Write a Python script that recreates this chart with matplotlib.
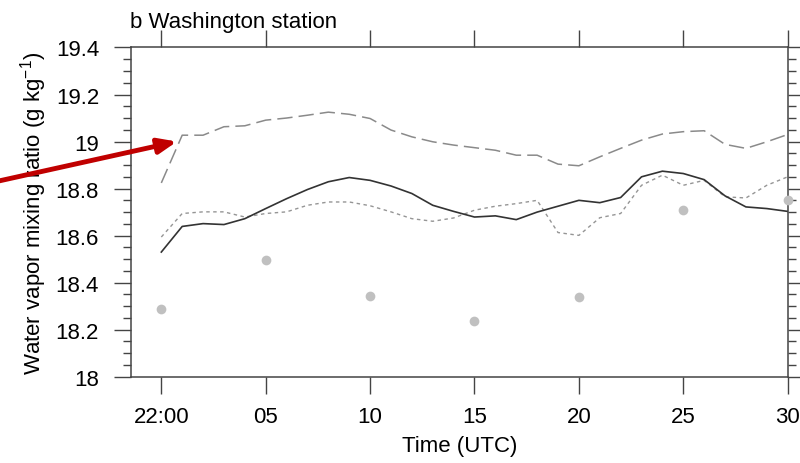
import matplotlib
matplotlib.use("Agg")
import matplotlib.pyplot as plt
from matplotlib.ticker import MultipleLocator, FixedLocator

plt.rcParams['font.family'] = ['Liberation Sans', 'DejaVu Sans']
plt.rcParams['mathtext.fontset'] = 'custom'
plt.rcParams['mathtext.rm'] = 'Liberation Sans'
plt.rcParams['mathtext.it'] = 'Liberation Sans:italic'

# ---- data ----
hours = list(range(31))
solid_vals = [18.53, 18.639, 18.651, 18.647, 18.672, 18.715, 18.757, 18.796, 18.829, 18.847,
              18.835, 18.811, 18.779, 18.729, 18.703, 18.679, 18.684, 18.668, 18.700, 18.725,
              18.750, 18.740, 18.762, 18.850, 18.874, 18.864, 18.838, 18.769, 18.722, 18.715,
              18.703]
dashed_vals = [18.824, 19.027, 19.027, 19.063, 19.067, 19.091, 19.100, 19.112, 19.125, 19.116,
               19.098, 19.049, 19.020, 18.999, 18.985, 18.974, 18.963, 18.942, 18.942, 18.904,
               18.897, 18.935, 18.971, 19.006, 19.032, 19.042, 19.046, 18.988, 18.971, 18.999,
               19.030]
dotted_vals = [18.594, 18.694, 18.701, 18.701, 18.679, 18.694, 18.701, 18.729, 18.743, 18.743,
               18.727, 18.701, 18.672, 18.661, 18.675, 18.708, 18.725, 18.736, 18.750, 18.613,
               18.601, 18.676, 18.694, 18.814, 18.857, 18.814, 18.835, 18.765, 18.760, 18.814,
               18.850]
obs_hours = [0, 5, 10, 15, 20, 25, 30]
obs_vals = [18.287, 18.498, 18.344, 18.236, 18.338, 18.711, 18.753]

xtick_pos = [0, 5, 10, 15, 20, 25, 30]
xtick_labels = ['22:00', '05', '10', '15', '20', '25', '30']
ytick_pos = [18, 18.2, 18.4, 18.6, 18.8, 19, 19.2, 19.4]
ytick_labels = ['18', '18.2', '18.4', '18.6', '18.8', '19', '19.2', '19.4']

title = 'b Washington station'
xlabel = 'Time (UTC)'
ylabel = r'Water vapor mixing ratio (g kg$^{\mathregular{-1}}$)'

# ---- figure ----
fig = plt.figure(figsize=(8, 4.64), dpi=100)
ax = fig.add_axes([0.1638, 0.186, 0.8208, 0.7095])

ax.plot(hours, dashed_vals, color='#8a8a8a', lw=1.1, dashes=(10, 4))
ax.plot(hours, dotted_vals, color='#959595', lw=1.0, dashes=(2.5, 2.5))
ax.plot(hours, solid_vals, color='#333333', lw=1.2)
ax.plot(obs_hours, obs_vals, 'o', color='#c0c0c0', ms=7, mec='none', clip_on=False, zorder=5)

ax.set_xlim(-1.45, 30)
ax.set_ylim(18, 19.4)

ax.xaxis.set_major_locator(FixedLocator(xtick_pos))
ax.set_xticklabels(xtick_labels)
ax.yaxis.set_major_locator(FixedLocator(ytick_pos))
ax.set_yticklabels(ytick_labels)
ax.yaxis.set_minor_locator(MultipleLocator(0.05))

ax.tick_params(axis='both', which='major', direction='out', length=12, width=1.0,
               color='#444444', labelsize=16, top=True, right=True)
ax.tick_params(axis='y', which='minor', direction='out', length=6, width=1.0,
               color='#444444', left=True, right=True)
ax.tick_params(axis='x', which='major', pad=9)
ax.tick_params(axis='y', which='major', pad=11)

for s in ax.spines.values():
    s.set_color('#444444')
    s.set_linewidth(1.1)

ax.set_xlabel(xlabel, fontsize=16, labelpad=6)
ax.set_ylabel(ylabel, fontsize=16, labelpad=5)
ax.set_title(title, loc='left', fontsize=16, pad=15, x=-0.002)

ax.annotate('', xy=(0.75, 19.0), xytext=(-7.9, 18.83), xycoords='data', textcoords='data',
            annotation_clip=False,
            arrowprops=dict(arrowstyle='-|>,head_length=1.1,head_width=0.45',
                            color='#c00000', lw=3.5, shrinkA=0, shrinkB=0))

fig.savefig('out.png', dpi=100)
